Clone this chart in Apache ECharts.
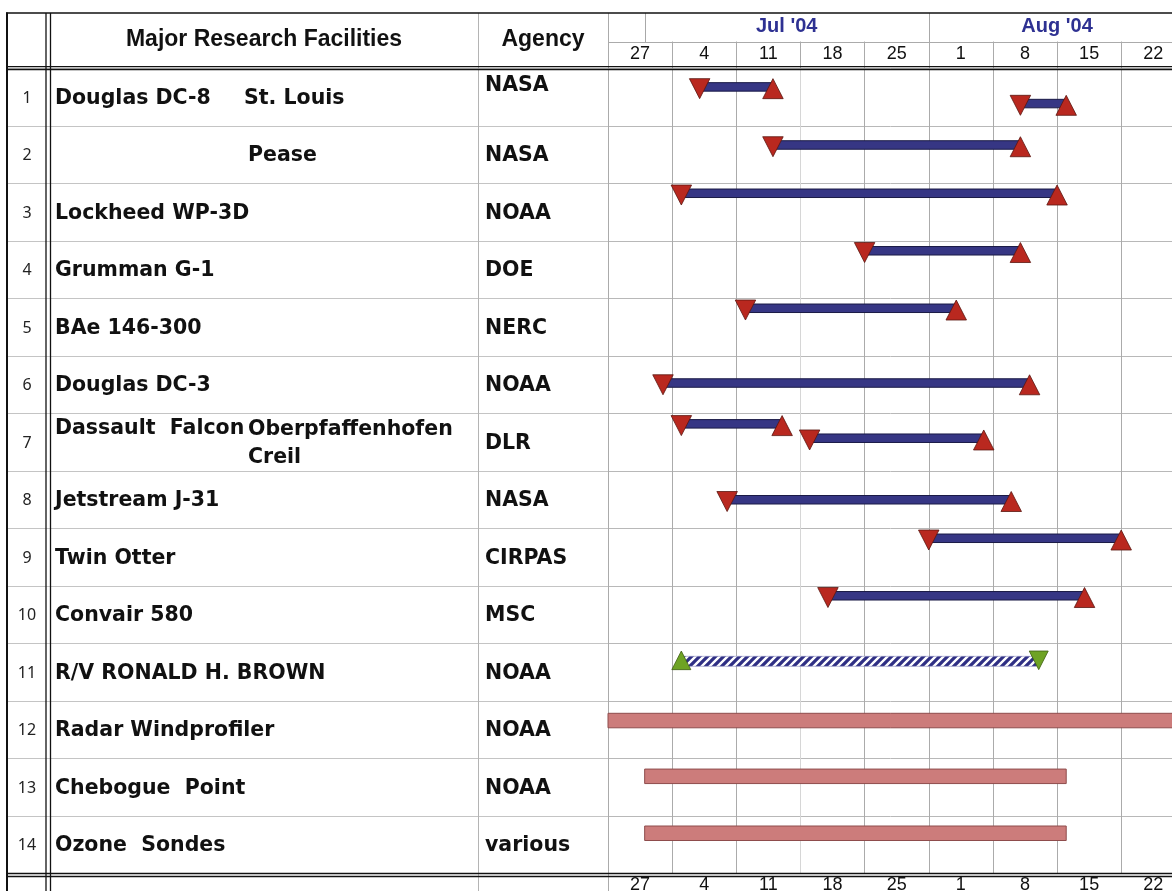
<!DOCTYPE html>
<html><head><meta charset="utf-8">
<script src="https://cdn.jsdelivr.net/npm/echarts@6/dist/echarts.min.js"></script>
<style>html,body{margin:0;padding:0;background:#fff;overflow:hidden}#chart{width:1172px;height:891px}</style>
</head><body><div id="chart"></div>
<script>
// ---------------- DATA ----------------
const rowNumbers = ['1','2','3','4','5','6','7','8','9','10','11','12','13','14'];
const facilities = ['Douglas DC-8','','Lockheed WP-3D','Grumman G-1','BAe 146-300','Douglas DC-3','Dassault  Falcon','Jetstream J-31','Twin Otter','Convair 580','R/V RONALD H. BROWN','Radar Windprofiler','Chebogue  Point','Ozone  Sondes'];
const bases = ['St. Louis','Pease','','','','','Oberpfaffenhofen\nCreil','','','','','','',''];
const agencies = ['NASA','NASA','NOAA','DOE','NERC','NOAA','DLR','NASA','CIRPAS','MSC','NOAA','NOAA','NOAA','various'];
const weekLabels = ['27','4','11','18','25','1','8','15','22'];
const monthLabels = ["Jul '04", "Aug '04"];
const monthStarts = ['2004-07-01','2004-08-01'];
const monthEnds = ['2004-08-01','2004-08-29'];
const axisStart = '2004-06-27';
const axisEnd = '2004-08-29';
// aircraft deployments (row index, start, end)
const flightRows  = [0, 0, 1, 2, 3, 4, 5, 6, 6, 7, 8, 9];
const flightStart = ['2004-07-07','2004-08-11','2004-07-15','2004-07-05','2004-07-25','2004-07-12','2004-07-03','2004-07-05','2004-07-19','2004-07-10','2004-08-01','2004-07-21'];
const flightEnd   = ['2004-07-15','2004-08-16','2004-08-11','2004-08-15','2004-08-11','2004-08-04','2004-08-12','2004-07-16','2004-08-07','2004-08-10','2004-08-22','2004-08-18'];
// ship cruise
const shipRows  = [10];
const shipStart = ['2004-07-05'];
const shipEnd   = ['2004-08-13'];
// ground sites
const groundRows  = [11, 12, 13];
const groundStart = ['2004-06-27','2004-07-01','2004-07-01'];
const groundEnd   = ['2004-08-31','2004-08-16','2004-08-16'];

// ---------------- LAYOUT / STYLE ----------------
const flightLane = [0.32,0.61,0.33,0.17,0.17,0.17,0.47,0.18,0.43,0.50,0.17,0.17];
const shipLane = [0.31];
const groundLane = [0.34,0.31,0.30];
const T0 = Date.parse(axisStart);
const day = s => (Date.parse(s) - T0) / 86400000;
const NAME_FONT = 'bold 20.5px "DejaVu Sans"';
const GRID_TOP = 68.5, ROW_H = 57.5, NROWS = 14;
const DAY_PX = 64.15 / 7;

// hatch pattern
const pc = document.createElement('canvas');
pc.width = 8; pc.height = 8;
const pctx = pc.getContext('2d');
pctx.fillStyle = '#2f2f84'; pctx.fillRect(0,0,8,8);
pctx.strokeStyle = '#ffffff'; pctx.lineWidth = 2.4;
pctx.beginPath();
pctx.moveTo(-1,9); pctx.lineTo(9,-1);
pctx.moveTo(-1,1); pctx.lineTo(1,-1);
pctx.moveTo(7,9); pctx.lineTo(9,7);
pctx.stroke();

const chart = echarts.init(document.getElementById('chart'), null, {renderer:'canvas'});

function renderFlight(params, api){
  const s = api.coord([api.value(0), api.value(2)]);
  const e = api.coord([api.value(1), api.value(2)]);
  const h = 8.5, tw = 20.5, th = 20;
  const yc = s[1], ty = yc - h/2 - 4;
  return {type:'group', children:[
    {type:'rect', shape:{x:s[0], y:yc-h/2, width:e[0]-s[0], height:h}, style:{fill:'#363684', stroke:'#1a1a46', lineWidth:1}},
    {type:'polygon', shape:{points:[[s[0]-tw/2,ty],[s[0]+tw/2,ty],[s[0],ty+th]]}, style:{fill:'#b9281f', stroke:'#5a1610', lineWidth:0.8}},
    {type:'polygon', shape:{points:[[e[0],ty],[e[0]+tw/2,ty+th],[e[0]-tw/2,ty+th]]}, style:{fill:'#b9281f', stroke:'#5a1610', lineWidth:0.8}}
  ]};
}
function renderShip(params, api){
  const s = api.coord([api.value(0), api.value(2)]);
  const e = api.coord([api.value(1), api.value(2)]);
  const h = 10, tw = 19, th = 18.6;
  const yc = s[1], ty = yc - 10.3;
  return {type:'group', children:[
    {type:'rect', shape:{x:s[0], y:yc-h/2, width:e[0]-s[0], height:h}, style:{fill:{image:pc, repeat:'repeat'}, stroke:'#8c8cc0', lineWidth:0.6}},
    {type:'polygon', shape:{points:[[s[0],ty],[s[0]+tw/2,ty+th],[s[0]-tw/2,ty+th]]}, style:{fill:'#6ea324', stroke:'#3e5e12', lineWidth:0.8}},
    {type:'polygon', shape:{points:[[e[0]-tw/2,ty],[e[0]+tw/2,ty],[e[0],ty+th]]}, style:{fill:'#6ea324', stroke:'#3e5e12', lineWidth:0.8}}
  ]};
}
function renderGround(params, api){
  const s = api.coord([api.value(0), api.value(2)]);
  const e = api.coord([api.value(1), api.value(2)]);
  const h = 14.5;
  const shape = echarts.graphic.clipRectByRect({x:s[0], y:s[1]-h/2, width:e[0]-s[0], height:h}, params.coordSys);
  return shape && {type:'rect', shape, style:{fill:'#cc7c7b', stroke:'#8e4c4c', lineWidth:1}};
}
function renderMonth(params, api){
  const i = params.dataIndex;
  const a = api.coord([api.value(0), 0]);
  const b = api.coord([api.value(1), 0]);
  return {type:'group', children:[
    {type:'line', shape:{x1:Math.round(a[0])+0.5, y1:13, x2:Math.round(a[0])+0.5, y2:42}, style:{stroke:'#a8a8a8', lineWidth:1}},
    {type:'text', x:(a[0]+b[0])/2, y:26.5, style:{text:monthLabels[i], fill:'#2e3192', font:'bold 20px "Liberation Sans"', align:'center', verticalAlign:'middle'}}
  ]};
}
function renderTable(params, api){
  const i = params.dataIndex;
  const c = api.coord([0, i + 0.5]);
  const t = api.coord([0, i]);
  const x0 = c[0], yc = c[1];
  const kids = [];
  kids.push({type:'text', x:x0+19, y:yc+1, style:{text:rowNumbers[i], fill:'#222', font:'16px "Noto Sans"', align:'center', verticalAlign:'middle'}});
  const twoLine = bases[i].indexOf('\n') >= 0;
  const nameY = twoLine ? yc - 14 : yc + 1;
  if (facilities[i]) kids.push({type:'text', x:x0+47, y:nameY, style:{text:facilities[i], fill:'#111', font:NAME_FONT, align:'left', verticalAlign:'middle'}});
  if (bases[i]) kids.push({type:'text', x:x0+(i === 0 ? 236 : 240), y:yc+1, style:{text:bases[i], fill:'#111', font:NAME_FONT, align:'left', verticalAlign:'middle', lineHeight:28}});
  const agY = (i === 0) ? t[1] + 17 : yc + 1;
  kids.push({type:'text', x:x0+477, y:agY, style:{text:agencies[i], fill:'#111', font:NAME_FONT, align:'left', verticalAlign:'middle'}});
  return {type:'group', children:kids};
}

const hideAxis = {axisLine:{show:false}, axisTick:{show:false}, axisLabel:{show:false}};
const gray = '#ababab';

const option = {
  animation:false,
  backgroundColor:'#ffffff',
  grid:[
    {left:8, top:GRID_TOP, width:600, height:ROW_H*NROWS, outerBoundsMode:'none', containLabel:false},
    {left:608, top:GRID_TOP, width:DAY_PX*day(axisEnd), height:ROW_H*NROWS, outerBoundsMode:'none', containLabel:false}
  ],
  xAxis:[
    Object.assign({type:'value', gridIndex:0, min:0, max:600, splitLine:{show:false}}, hideAxis),
    Object.assign({type:'value', gridIndex:1, min:0, max:day(axisEnd), interval:7,
      splitLine:{show:true, lineStyle:{color:[gray, gray, gray, '#d6d6d6', gray, gray, gray, gray, gray, gray], width:1}}}, hideAxis),
    {type:'category', gridIndex:1, position:'top', data:weekLabels, boundaryGap:true,
      axisLine:{show:false}, axisTick:{show:true, length:27, lineStyle:{color:gray}},
      axisLabel:{margin:5, fontSize:18, fontFamily:'"Liberation Sans"', color:'#111'}, splitLine:{show:false}},
    {type:'category', gridIndex:1, position:'bottom', data:weekLabels, boundaryGap:true,
      axisLine:{show:false}, axisTick:{show:false},
      axisLabel:{margin:3, fontSize:18, fontFamily:'"Liberation Sans"', color:'#111'}, splitLine:{show:false}}
  ],
  yAxis:[
    Object.assign({type:'value', gridIndex:0, min:0, max:NROWS, interval:1, inverse:true, splitLine:{show:true, lineStyle:{color:'#c4c4c4'}}}, hideAxis),
    Object.assign({type:'value', gridIndex:1, min:0, max:NROWS, interval:1, inverse:true, splitLine:{show:true, lineStyle:{color:'#b8b8b8'}}}, hideAxis)
  ],
  graphic:[
    {type:'line', shape:{x1:6, y1:13, x2:1172, y2:13}, style:{stroke:'#111', lineWidth:1.6}, z:100},
    {type:'line', shape:{x1:608, y1:42.5, x2:1172, y2:42.5}, style:{stroke:gray, lineWidth:1}, z:100},
    {type:'line', shape:{x1:6, y1:66.7, x2:1172, y2:66.7}, style:{stroke:'#111', lineWidth:1.3}, z:100},
    {type:'line', shape:{x1:6, y1:69.5, x2:1172, y2:69.5}, style:{stroke:'#111', lineWidth:1.3}, z:100},
    {type:'line', shape:{x1:6, y1:873.5, x2:1172, y2:873.5}, style:{stroke:'#111', lineWidth:1.3}, z:100},
    {type:'line', shape:{x1:6, y1:876.5, x2:1172, y2:876.5}, style:{stroke:'#111', lineWidth:1.3}, z:100},
    {type:'line', shape:{x1:7, y1:12.5, x2:7, y2:891}, style:{stroke:'#111', lineWidth:2}, z:100},
    {type:'line', shape:{x1:46, y1:13, x2:46, y2:891}, style:{stroke:'#111', lineWidth:1.3}, z:100},
    {type:'line', shape:{x1:50.5, y1:13, x2:50.5, y2:891}, style:{stroke:'#111', lineWidth:1.3}, z:100},
    {type:'line', shape:{x1:478.5, y1:13, x2:478.5, y2:891}, style:{stroke:'#b4b4b4', lineWidth:1}, z:1},
    {type:'line', shape:{x1:608.5, y1:13, x2:608.5, y2:891}, style:{stroke:gray, lineWidth:1}, z:1},
    {type:'text', x:264, y:40, style:{text:'Major Research Facilities', fill:'#111', font:'bold 23px "Liberation Sans"', align:'center', verticalAlign:'middle'}, z:100},
    {type:'text', x:543, y:40, style:{text:'Agency', fill:'#111', font:'bold 23px "Liberation Sans"', align:'center', verticalAlign:'middle'}, z:100}
  ],
  series:[
    {type:'custom', name:'table', xAxisIndex:0, yAxisIndex:0, renderItem:renderTable,
      data:rowNumbers.map((r,i)=>[0,i]), encode:{x:0,y:1}, silent:true},
    {type:'custom', name:'months', xAxisIndex:1, yAxisIndex:1, renderItem:renderMonth,
      data:monthStarts.map((s,i)=>[day(s), day(monthEnds[i])]), encode:{x:[0,1]}, silent:true},
    {type:'custom', name:'ground', xAxisIndex:1, yAxisIndex:1, renderItem:renderGround,
      data:groundRows.map((r,i)=>[day(groundStart[i]), day(groundEnd[i]), r + groundLane[i]]), encode:{x:[0,1], y:2}},
    {type:'custom', name:'ship', xAxisIndex:1, yAxisIndex:1, renderItem:renderShip,
      data:shipRows.map((r,i)=>[day(shipStart[i]), day(shipEnd[i]), r + shipLane[i]]), encode:{x:[0,1], y:2}},
    {type:'custom', name:'aircraft', xAxisIndex:1, yAxisIndex:1, renderItem:renderFlight,
      data:flightRows.map((r,i)=>[day(flightStart[i]), day(flightEnd[i]), r + flightLane[i]]), encode:{x:[0,1], y:2}}
  ]
};
chart.setOption(option);
</script></body></html>
